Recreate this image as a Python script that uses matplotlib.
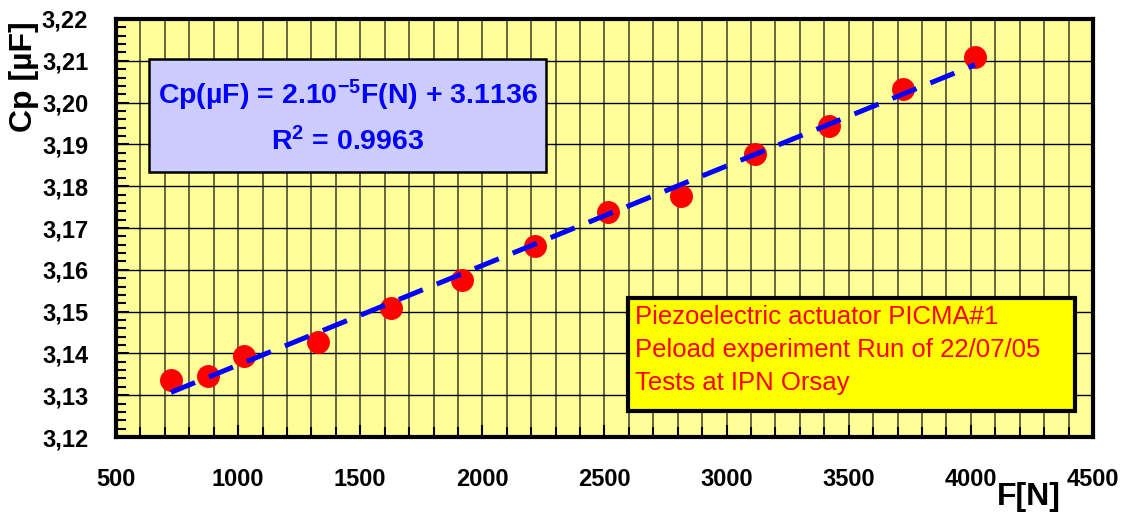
import numpy as np
import matplotlib.pyplot as plt
from matplotlib.ticker import MultipleLocator, FuncFormatter

# Capacité mesurée en fonction de la précharge
force_n = [725, 877, 1024, 1327, 1626, 1917, 2215, 2514, 2813, 3116, 3419, 3722, 4017]
cp_uf = [3.1336, 3.1346, 3.1394, 3.1427, 3.1509, 3.1576, 3.1657, 3.1738, 3.1777,
         3.1877, 3.1944, 3.2033, 3.2109]

x_ticks = [500, 1000, 1500, 2000, 2500, 3000, 3500, 4000, 4500]
y_ticks = [3.12, 3.13, 3.14, 3.15, 3.16, 3.17, 3.18, 3.19, 3.20, 3.21, 3.22]

equation = 'Cp(µF) = 2.10$^{-5}$F(N) + 3.1136'
r2_text = 'R$^{2}$ = 0.9963'
info_lines = ['Piezoelectric actuator PICMA#1',
              'Peload experiment Run of 22/07/05',
              'Tests at IPN Orsay']

plt.rcParams['font.family'] = ['Liberation Sans', 'DejaVu Sans']
plt.rcParams['mathtext.fontset'] = 'custom'
plt.rcParams['mathtext.rm'] = 'Liberation Sans:bold'
plt.rcParams['mathtext.bf'] = 'Liberation Sans:bold'
plt.rcParams['mathtext.it'] = 'Liberation Sans:bold'
plt.rcParams['mathtext.default'] = 'bf'

fig = plt.figure(figsize=(11.24, 5.13), dpi=100)
ax = fig.add_axes([0.1032, 0.1481, 0.8692, 0.8149])
ax.set_facecolor('#FFFF99')

# quadrillage : verticales tous les 100 N, horizontales tous les 0,01
for xv in np.arange(600, 4500, 100):
    ax.axvline(xv, color='#5c5c3a', lw=1.3, zorder=1)
for yv in y_ticks[1:-1]:
    ax.axhline(yv, color='black', lw=1.0, zorder=1)

ax.plot(force_n, cp_uf, 'o', color='red', markersize=15.5, zorder=3)

# droite de régression
a, b = np.polyfit(force_n, cp_uf, 1)
xf = np.array([force_n[0], force_n[-1]])
ax.plot(xf, a * xf + b, color='#0000FF', lw=3.6, dashes=(5.2, 3.0), zorder=4)

ax.set_xlim(500, 4500)
ax.set_ylim(3.12, 3.22)
ax.set_xticks(x_ticks)
ax.set_yticks(y_ticks)
ax.xaxis.set_minor_locator(MultipleLocator(100))
ax.yaxis.set_minor_locator(MultipleLocator(0.002))
ax.yaxis.set_major_formatter(FuncFormatter(lambda v, p: f'{v:.2f}'.replace('.', ',')))
ax.tick_params(which='both', direction='in', width=1.5, labelsize=17)
ax.tick_params(which='major', length=9)
ax.tick_params(which='minor', length=7)
ax.tick_params(axis='x', pad=22)
ax.tick_params(axis='y', pad=20)
for lab in ax.get_xticklabels() + ax.get_yticklabels():
    lab.set_fontweight('bold')
for sp in ax.spines.values():
    sp.set_linewidth(3)
    sp.set_zorder(6)

fig.text(0.9155, 0.031, 'F[N]', fontsize=23, fontweight='bold', ha='center', va='center')
fig.text(0.021, 0.85, 'Cp [µF]', fontsize=23, fontweight='bold', rotation=90,
         ha='center', va='center')

# encadré de l'équation
ax.add_patch(plt.Rectangle((0.0338, 0.634), 0.4063, 0.270, transform=ax.transAxes,
                           facecolor='#CCCCFF', edgecolor='black', lw=1.8, zorder=7))
ax.text(0.2375, 0.818, equation, transform=ax.transAxes, color='#0000FF', fontsize=20.5,
        fontweight='bold', ha='center', va='center', zorder=8)
ax.text(0.2375, 0.706, r2_text, transform=ax.transAxes, color='#0000FF', fontsize=20.5,
        fontweight='bold', ha='center', va='center', zorder=8)

# encadré d'information
ax.add_patch(plt.Rectangle((0.524, 0.063), 0.4575, 0.270, transform=ax.transAxes,
                           facecolor='#FFFF00', edgecolor='black', lw=3, zorder=7))
for line, yl in zip(info_lines, [0.287, 0.208, 0.129]):
    ax.text(0.531, yl, line, transform=ax.transAxes, color='red',
            fontsize=18.5, ha='left', va='center', zorder=8)

fig.savefig('out.png', dpi=100)
